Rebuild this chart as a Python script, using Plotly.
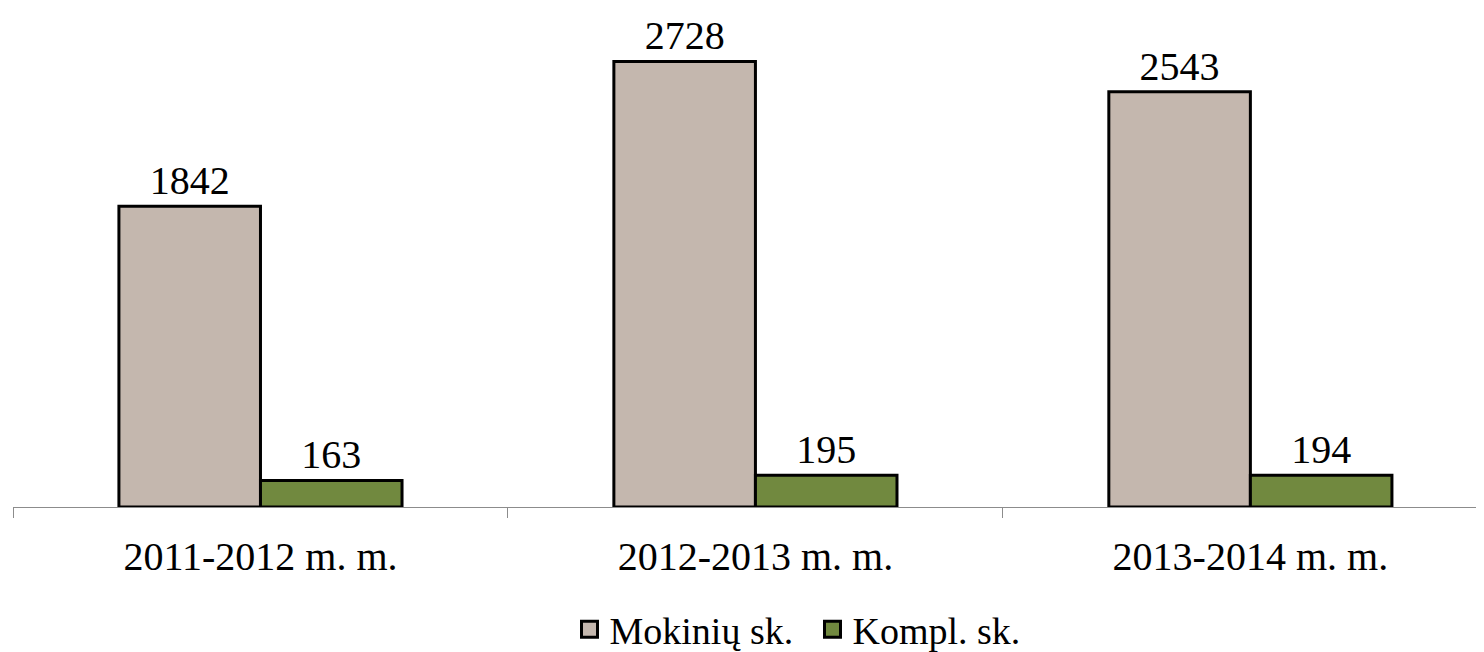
import plotly.graph_objects as go

categories = ["2011-2012 m. m.", "2012-2013 m. m.", "2013-2014 m. m."]
series_names = ["Mokinių sk.", "Kompl. sk."]
mokiniu = [1842, 2728, 2543]
kompl = [163, 195, 194]
colors = ["#C4B7AE", "#71893F"]

FONT = "Liberation Serif"
fig = go.Figure()
for name, vals, col in zip(series_names, [mokiniu, kompl], colors):
    fig.add_trace(go.Bar(
        x=categories, y=vals, name=name, showlegend=False,
        marker=dict(color=col, line=dict(color="black", width=3)),
        text=[str(v) for v in vals], textposition="outside",
        textfont=dict(family=FONT, size=40, color="black"),
        cliponaxis=False,
    ))
    fig.add_trace(go.Scatter(
        x=[None], y=[None], mode="markers", name=name, showlegend=True,
        marker=dict(symbol="square", size=16, color=col, line=dict(color="black", width=3)),
    ))

# page body has an 8px default margin, so the figure is sized/offset to compensate
fig.update_layout(
    width=1476, height=644,
    margin=dict(l=5, r=0, t=9, b=145, autoexpand=False),
    paper_bgcolor="white", plot_bgcolor="white",
    barmode="group", bargap=0.428, bargroupgap=0,
    font=dict(family=FONT, size=40, color="black"),
    legend=dict(orientation="h", x=0.5435, xanchor="center", y=-0.25, yanchor="middle",
                font=dict(family=FONT, size=38), itemsizing="trace", traceorder="normal",
                entrywidth=198, entrywidthmode="pixels"),
    showlegend=True,
)
fig.update_xaxes(
    type="category", range=[-0.5, 2.472], showline=True, linecolor="#8c8c8c", linewidth=1,
    ticks="outside", tickson="boundaries", ticklen=10, tickcolor="#8c8c8c",
    tickfont=dict(family=FONT, size=40), showgrid=False, ticklabelstandoff=14,
    automargin=False,
)
fig.update_yaxes(range=[0, 3000], visible=False, showgrid=False, automargin=False)

fig.write_html("out.html")
